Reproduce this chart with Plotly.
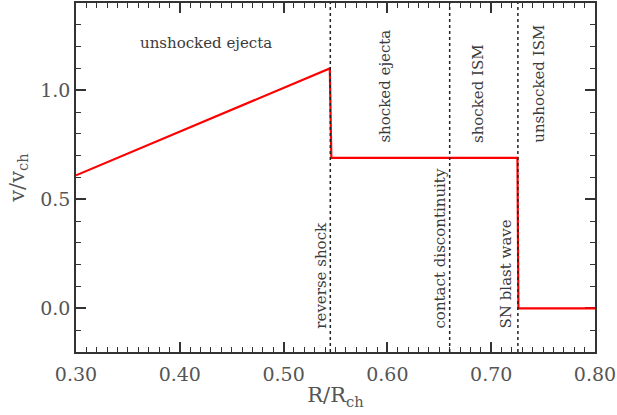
import plotly.graph_objects as go

# velocity profile v/v_ch vs R/R_ch
r_prof = [0.30, 0.5445, 0.546, 0.7253, 0.7262, 0.80]
v_prof = [0.61, 1.10, 0.69, 0.69, 0.0, 0.0]

# discontinuities
disc_x = [0.545, 0.660, 0.7257]
disc_names = ["reverse shock", "contact discontinuity", "SN blast wave"]
disc_label_x = [0.536, 0.651, 0.714]

# region labels (vertical ones)
region_names = ["shocked ejecta", "shocked ISM", "unshocked ISM"]
region_x = [0.598, 0.688, 0.746]

FONT = "DejaVu Serif"
TXT = "#3a3a3a"
AX = "#333333"
LBL = "#555555"

fig = go.Figure()
fig.add_trace(go.Scatter(x=r_prof, y=v_prof, mode="lines",
                         line=dict(color="#ff0000", width=2.2), showlegend=False))
# invisible copy so the mirrored top/right axes get drawn
fig.add_trace(go.Scatter(x=r_prof, y=v_prof, mode="lines", xaxis="x2", yaxis="y2",
                         line=dict(width=0), hoverinfo="skip", showlegend=False))

for x in disc_x:
    fig.add_vline(x=x, line=dict(color="#222222", width=1.5, dash="dot"))

fig.add_annotation(x=0.425, y=1.215, text="unshocked ejecta", showarrow=False,
                   font=dict(family=FONT, size=15, color=TXT))
for name, x in zip(region_names, region_x):
    fig.add_annotation(x=x, y=0.75, text=name, showarrow=False, textangle=-90,
                       xanchor="center", yanchor="bottom",
                       font=dict(family=FONT, size=15, color=TXT))
for name, x in zip(disc_names, disc_label_x):
    fig.add_annotation(x=x, y=-0.1, text=name, showarrow=False, textangle=-90,
                       xanchor="center", yanchor="bottom",
                       font=dict(family=FONT, size=15, color=TXT))

axis_common = dict(showline=True, linecolor=AX, linewidth=1.5, mirror=True,
                   ticks="inside", ticklen=10, tickwidth=1.5, tickcolor=AX,
                   showgrid=False, zeroline=False, ticklabeloverflow="allow",
                   layer="below traces",
                   tickfont=dict(family=FONT, size=19, color=LBL))
xminor = dict(ticks="inside", ticklen=5, tickwidth=1.2, tickcolor=AX, dtick=0.01)
yminor = dict(ticks="inside", ticklen=5, tickwidth=1.2, tickcolor=AX, dtick=0.1)

fig.update_layout(
    width=617, height=415,
    paper_bgcolor="white", plot_bgcolor="white",
    margin=dict(l=76, r=21, t=1, b=63),
    font=dict(family=FONT, color=TXT),
    xaxis=dict(range=[0.30, 0.80], tick0=0.3, dtick=0.1, tickformat=".2f", minor=xminor,
               ticklabelstandoff=4,
               title=dict(text="R/R<sub>ch</sub>", font=dict(family=FONT, size=21, color=LBL),
                          standoff=4),
               **axis_common),
    yaxis=dict(range=[-0.2, 1.4], tick0=0, dtick=0.5, tickformat=".1f", minor=yminor,
               title=dict(text="v/v<sub>ch</sub>", font=dict(family=FONT, size=21, color=LBL),
                          standoff=10),
               **axis_common),
    xaxis2=dict(range=[0.30, 0.80], overlaying="x", side="top", tick0=0.3, dtick=0.1,
                ticks="inside", ticklen=10, tickwidth=1.5, tickcolor=AX, minor=xminor,
                layer="below traces",
                showticklabels=False, showgrid=False, zeroline=False),
    yaxis2=dict(range=[-0.2, 1.4], overlaying="y", side="right", tick0=0, dtick=0.5,
                ticks="inside", ticklen=10, tickwidth=1.5, tickcolor=AX, minor=yminor,
                layer="below traces",
                showticklabels=False, showgrid=False, zeroline=False),
)

fig.write_html("out.html", config={"displayModeBar": False},
               post_script="document.body.style.margin='0';")
